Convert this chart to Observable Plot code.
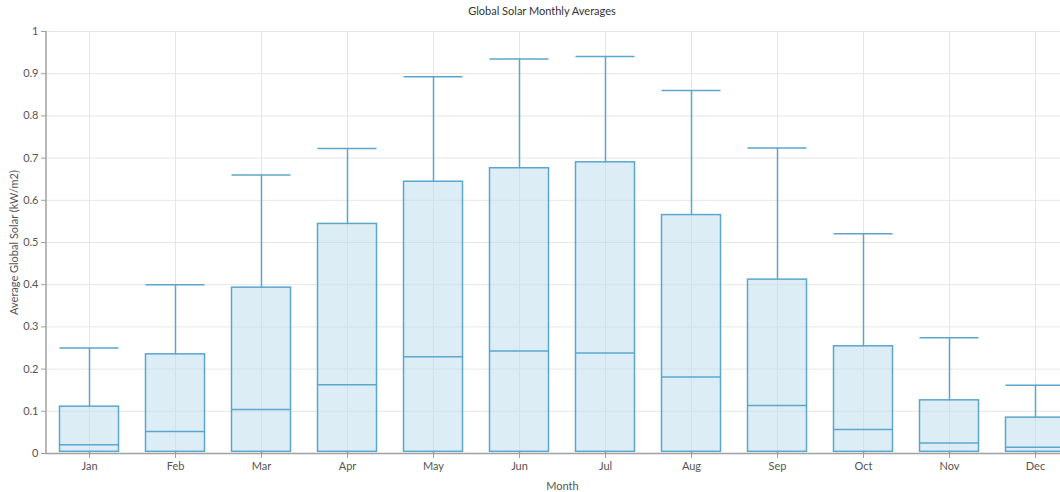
<!DOCTYPE html>
<html><head><meta charset="utf-8">
<script src="https://cdn.jsdelivr.net/npm/d3@7"></script>
<script src="https://cdn.jsdelivr.net/npm/@observablehq/plot@0.6"></script>
<style>
body{margin:0;overflow:hidden;background:#fff;font-family:Lato,"Open Sans",sans-serif}
#wrap{position:relative;width:1060px;height:492px;overflow:hidden}
#title{position:absolute;top:4px;left:542px;transform:translateX(-50%);font-size:11px;color:#333;white-space:nowrap;z-index:2}
#wrap svg{overflow:hidden;max-width:none}
</style></head><body>
<div id="wrap"><div id="title">Global Solar Monthly Averages</div></div>
<script>
const months = ["Jan","Feb","Mar","Apr","May","Jun","Jul","Aug","Sep","Oct","Nov","Dec"];
const maxV = [0.250,0.400,0.660,0.723,0.893,0.935,0.941,0.860,0.724,0.521,0.274,0.162];
const q3V  = [0.111,0.235,0.393,0.544,0.644,0.676,0.690,0.565,0.412,0.254,0.126,0.085];
const medV = [0.021,0.052,0.104,0.163,0.229,0.243,0.238,0.181,0.114,0.057,0.025,0.015];
const q1V  = [0.004,0.004,0.004,0.004,0.004,0.004,0.004,0.004,0.004,0.004,0.004,0.004];
const minV = [0,0,0,0,0,0,0,0,0,0,0,0];
const yTicks = [0,0.1,0.2,0.3,0.4,0.5,0.6,0.7,0.8,0.9,1];
const yTickLabels = ["0","0.1","0.2","0.3","0.4","0.5","0.6","0.7","0.8","0.9","1"];

const data = months.map((m,i)=>({month:m,min:minV[i],q1:q1V[i],median:medV[i],q3:q3V[i],max:maxV[i]}));
const stroke = "#5ba6cd";
const inset = 13.5;

const chart = Plot.plot({
  width: 1078, height: 492,
  marginTop: 31, marginBottom: 39, marginLeft: 46, marginRight: 0,
  style: {fontFamily: "Lato, 'Open Sans', sans-serif", fontSize: "11px", color: "#555", background: "white", overflow: "hidden", maxWidth: "none"},
  x: {domain: months, padding: 0},
  y: {domain: [0, 1]},
  marks: [
    Plot.gridY(yTicks, {stroke: "#e6e6e6", strokeOpacity: 1, strokeWidth: 1}),
    Plot.gridX(months, {stroke: "#e6e6e6", strokeOpacity: 1, strokeWidth: 1}),
    Plot.ruleX(data, {x: "month", y1: "min", y2: "q1", stroke, strokeWidth: 1.5}),
    Plot.ruleX(data, {x: "month", y1: "q3", y2: "max", stroke, strokeWidth: 1.5}),
    Plot.barY(data, {x: "month", y1: "q1", y2: "q3", fill: "#bcdcee", fillOpacity: 0.5, stroke, strokeWidth: 1.5, insetLeft: inset, insetRight: inset}),
    Plot.tickY(data, {x: "month", y: "median", stroke, strokeWidth: 1.5, insetLeft: inset, insetRight: inset}),
    Plot.tickY(data, {x: "month", y: "max", stroke, strokeWidth: 1.5, insetLeft: inset, insetRight: inset}),
    Plot.axisY({ticks: yTicks, tickFormat: d => yTickLabels[yTicks.indexOf(d)], tickSize: 5, tickPadding: 3,
      stroke: "#a0a0a0", fill: "#555", label: "Average Global Solar (kW/m2)", labelAnchor: "center", labelOffset: 36, labelArrow: "none"}),
    Plot.axisX({tickSize: 5, tickPadding: 4, stroke: "#a0a0a0", fill: "#555",
      label: "Month", labelAnchor: "center", labelOffset: 36, labelArrow: "none"}),
    Plot.ruleY([0], {stroke: "#a0a0a0", strokeWidth: 1.5})
  ]
});
document.getElementById("wrap").appendChild(chart);
// left axis line, positioned from the scales
const xs = chart.scale("x"), ys = chart.scale("y");
d3.select(chart).append("line")
  .attr("x1", xs.range[0]).attr("x2", xs.range[0])
  .attr("y1", ys.range[0]).attr("y2", ys.range[1])
  .attr("stroke", "#a0a0a0").attr("stroke-width", 1.5);
</script>
</body></html>
